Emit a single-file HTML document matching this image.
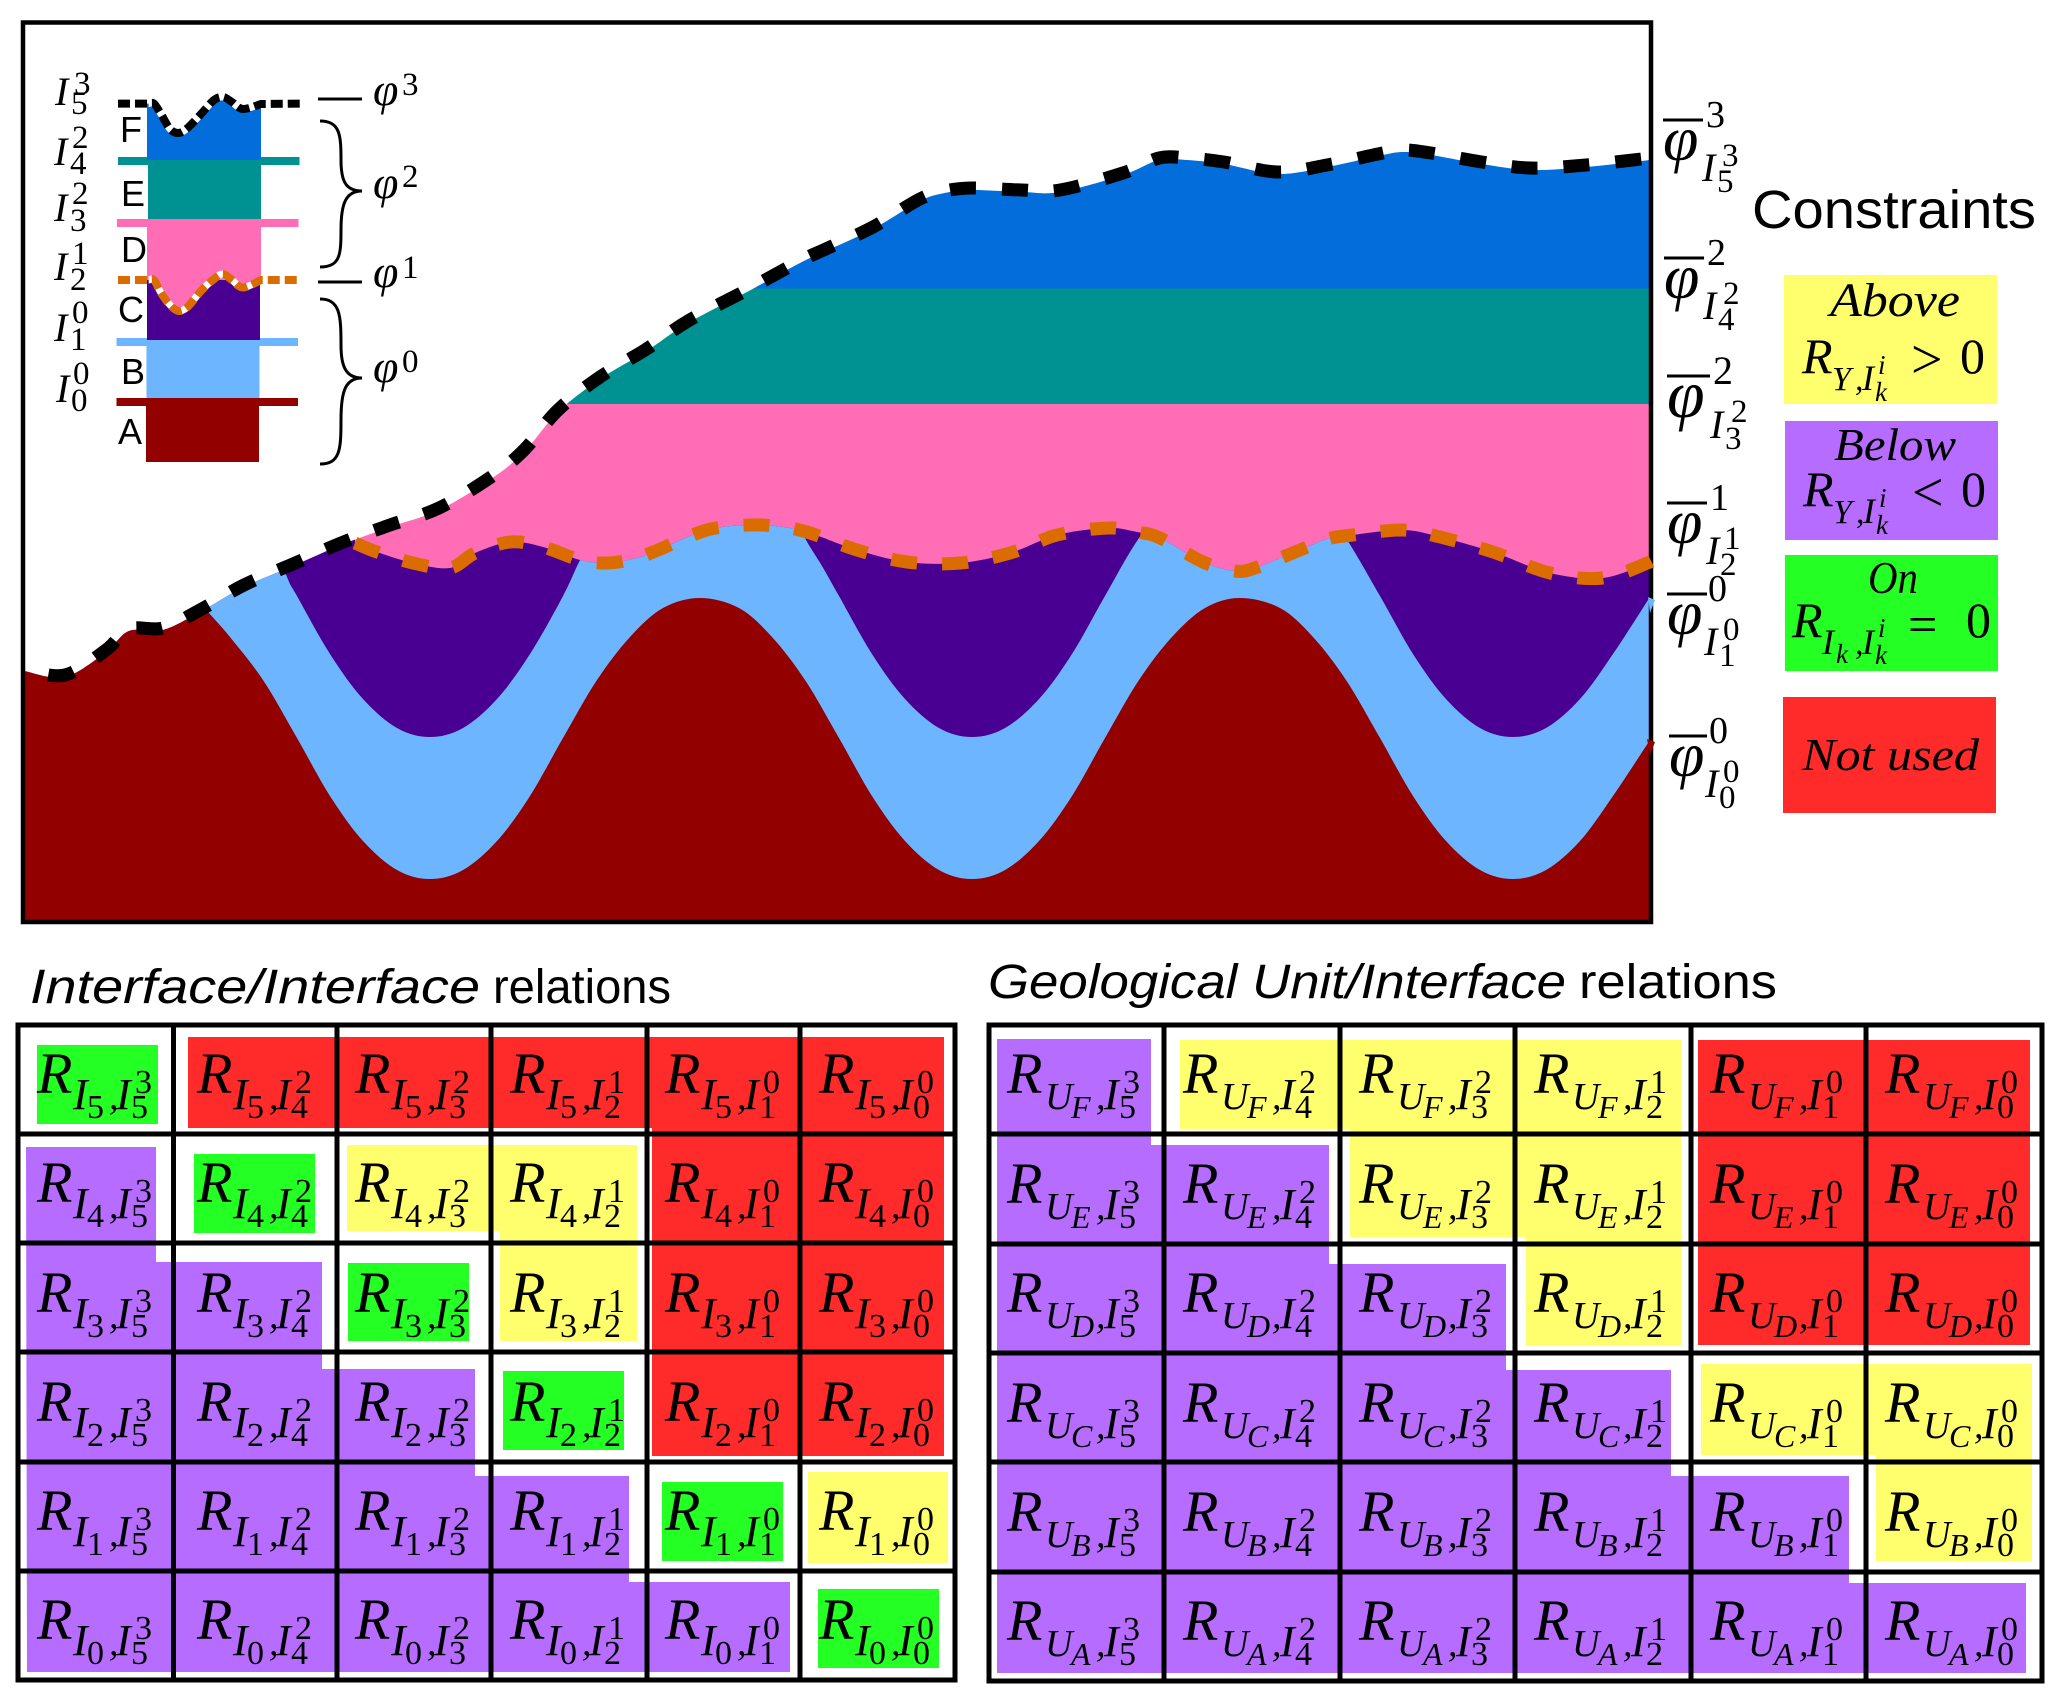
<!DOCTYPE html>
<html lang="en">
<head>
<meta charset="utf-8">
<title>Geological interface constraints</title>
<style>
html,body{margin:0;padding:0;background:#fff}
svg{display:block}
.m{font-family:"Liberation Serif",serif;font-style:italic;fill:#000}
.n{font-style:normal}
.s{font-family:"Liberation Sans",sans-serif;fill:#000}
</style>
</head>
<body>
<svg id="root" xmlns="http://www.w3.org/2000/svg" width="2067" height="1701" viewBox="0 0 2067 1701">
<rect width="2067" height="1701" fill="#fff"/>

<g id="section"></g>
<rect x="23" y="22.5" width="1628" height="899.5" fill="none" stroke="#000" stroke-width="4.5"/>
<path fill="#6db6ff" d="M1648 597L1655 600L1650 613Z"/>
<path fill="#920000" d="M1647 739L1655 742L1650 755Z"/>
<g id="section-top"></g>

<g id="inset">
  <rect x="146" y="400" width="113" height="62" fill="#920000"/>
  <rect x="146.5" y="340" width="113" height="60" fill="#6db6ff"/>
  <rect x="148" y="160" width="113" height="62" fill="#009292"/>
  <rect x="116.5" y="398" width="181.5" height="8" fill="#920000"/>
  <rect x="116.5" y="338" width="181.5" height="8" fill="#6db6ff"/>
  <rect x="117" y="219" width="181.5" height="8" fill="#ff6db6"/>
  <rect x="118" y="157" width="181.5" height="8" fill="#009292"/>
</g>

<g class="s" font-size="36">
  <text class="s" x="120" y="142">F</text>
  <text class="s" x="121" y="206">E</text>
  <text class="s" x="121" y="262">D</text>
  <text class="s" x="118" y="322">C</text>
  <text class="s" x="121" y="384">B</text>
  <text class="s" x="118" y="444">A</text>
</g>

<g>
  <text class="m" font-size="40"><tspan x="55" y="105">I</tspan><tspan class="n" font-size="33" x="74" y="94">3</tspan><tspan class="n" font-size="33" x="71" y="114">5</tspan></text>
  <text class="m" font-size="40"><tspan x="54" y="165">I</tspan><tspan class="n" font-size="33" x="72" y="148">2</tspan><tspan class="n" font-size="33" x="70" y="174">4</tspan></text>
  <text class="m" font-size="40"><tspan x="54" y="221">I</tspan><tspan class="n" font-size="33" x="72" y="204">2</tspan><tspan class="n" font-size="33" x="70" y="231">3</tspan></text>
  <text class="m" font-size="40"><tspan x="54" y="280">I</tspan><tspan class="n" font-size="33" x="72" y="264">1</tspan><tspan class="n" font-size="33" x="70" y="290">2</tspan></text>
  <text class="m" font-size="40"><tspan x="54" y="341">I</tspan><tspan class="n" font-size="33" x="72" y="323">0</tspan><tspan class="n" font-size="33" x="70" y="350">1</tspan></text>
  <text class="m" font-size="40"><tspan x="56" y="402">I</tspan><tspan class="n" font-size="33" x="73" y="384">0</tspan><tspan class="n" font-size="33" x="71" y="411">0</tspan></text>
</g>

<g fill="none" stroke="#000" stroke-width="3">
  <path d="M318 99H362"/>
  <path d="M318 282H362"/>
  <path d="M320 121C340 121 341 135 341 160C341 180 345 191 362 191C345 191 341 205 341 230C341 255 340 267 320 267"/>
  <path d="M320 299C340 299 341 315 341 345C341 365 345 378 362 378C345 378 341 392 341 420C341 450 340 464 320 464"/>
</g>
<text class="m" font-size="46"><tspan x="373" y="105">φ</tspan><tspan class="n" font-size="33" x="402" y="95">3</tspan></text>
<text class="m" font-size="46"><tspan x="373" y="198">φ</tspan><tspan class="n" font-size="33" x="402" y="187">2</tspan></text>
<text class="m" font-size="46"><tspan x="373" y="287">φ</tspan><tspan class="n" font-size="33" x="402" y="278">1</tspan></text>
<text class="m" font-size="46"><tspan x="373" y="382">φ</tspan><tspan class="n" font-size="33" x="402" y="372">0</tspan></text>

<g stroke="none">
  <rect x="1663" y="118.5" width="40" height="3" fill="#000"/>
  <text class="m" font-size="64"><tspan x="1663" y="160">φ</tspan><tspan class="n" font-size="38" x="1706" y="127">3</tspan><tspan font-size="40" x="1702" y="181">I</tspan><tspan class="n" font-size="33" x="1722" y="166">3</tspan><tspan class="n" font-size="33" x="1717" y="192">5</tspan></text>
  <rect x="1664" y="256.5" width="40" height="3" fill="#000"/>
  <text class="m" font-size="64"><tspan x="1664" y="298">φ</tspan><tspan class="n" font-size="38" x="1707" y="265">2</tspan><tspan font-size="40" x="1703" y="319">I</tspan><tspan class="n" font-size="33" x="1723" y="304">2</tspan><tspan class="n" font-size="33" x="1718" y="330">4</tspan></text>
  <rect x="1667" y="374.5" width="43" height="3" fill="#000"/>
  <text class="m" font-size="68"><tspan x="1667" y="417">φ</tspan><tspan class="n" font-size="40" x="1713" y="384">2</tspan><tspan font-size="40" x="1710" y="438">I</tspan><tspan class="n" font-size="33" x="1731" y="422">2</tspan><tspan class="n" font-size="33" x="1725" y="449">3</tspan></text>
  <rect x="1667" y="501.5" width="40" height="3" fill="#000"/>
  <text class="m" font-size="64"><tspan x="1667" y="543">φ</tspan><tspan class="n" font-size="38" x="1710" y="510">1</tspan><tspan font-size="40" x="1706" y="564">I</tspan><tspan class="n" font-size="33" x="1724" y="549">1</tspan><tspan class="n" font-size="33" x="1720" y="575">2</tspan></text>
  <rect x="1667" y="592.5" width="40" height="3" fill="#000"/>
  <text class="m" font-size="64"><tspan x="1667" y="634">φ</tspan><tspan class="n" font-size="38" x="1708" y="601">0</tspan><tspan font-size="40" x="1704" y="655">I</tspan><tspan class="n" font-size="33" x="1723" y="640">0</tspan><tspan class="n" font-size="33" x="1719" y="666">1</tspan></text>
  <rect x="1669" y="734.5" width="38" height="3" fill="#000"/>
  <text class="m" font-size="64"><tspan x="1669" y="776">φ</tspan><tspan class="n" font-size="38" x="1709" y="743">0</tspan><tspan font-size="40" x="1705" y="797">I</tspan><tspan class="n" font-size="33" x="1723" y="782">0</tspan><tspan class="n" font-size="33" x="1719" y="808">0</tspan></text>
</g>

<g>
  <text class="s" x="1752" y="228" font-size="54" textLength="284" lengthAdjust="spacingAndGlyphs">Constraints</text>

  <rect x="1784" y="275" width="213" height="129" fill="#ffff6d"/>
  <text class="m" x="1830" y="316" font-size="48" textLength="130" lengthAdjust="spacingAndGlyphs">Above</text>
  <text class="m" font-size="50"><tspan x="1802" y="373">R</tspan><tspan font-size="34" x="1832" y="390">Υ</tspan><tspan font-size="34" x="1855" y="390">,</tspan><tspan font-size="36" x="1862" y="390">I</tspan><tspan font-size="27" x="1878" y="374">i</tspan><tspan font-size="27" x="1875" y="401">k</tspan><tspan class="n" font-size="56" x="1911" y="378">&gt;</tspan><tspan class="n" font-size="50" x="1960" y="373">0</tspan></text>

  <rect x="1785" y="421" width="213" height="119" fill="#b66dff"/>
  <text class="m" x="1834" y="460" font-size="46" textLength="122" lengthAdjust="spacingAndGlyphs">Below</text>
  <text class="m" font-size="50"><tspan x="1803" y="506">R</tspan><tspan font-size="34" x="1833" y="523">Υ</tspan><tspan font-size="34" x="1856" y="523">,</tspan><tspan font-size="36" x="1863" y="523">I</tspan><tspan font-size="27" x="1879" y="507">i</tspan><tspan font-size="27" x="1876" y="534">k</tspan><tspan class="n" font-size="56" x="1912" y="511">&lt;</tspan><tspan class="n" font-size="50" x="1961" y="506">0</tspan></text>

  <rect x="1785" y="555" width="213" height="116" fill="#24ff24"/>
  <text class="m" x="1868" y="593" font-size="46" textLength="50" lengthAdjust="spacingAndGlyphs">On</text>
  <text class="m" font-size="50"><tspan x="1792" y="637">R</tspan><tspan font-size="36" x="1822" y="654">I</tspan><tspan font-size="27" x="1836" y="663">k</tspan><tspan font-size="34" x="1855" y="654">,</tspan><tspan font-size="36" x="1862" y="654">I</tspan><tspan font-size="27" x="1878" y="637">i</tspan><tspan font-size="27" x="1875" y="664">k</tspan><tspan class="n" font-size="52" x="1908" y="642">=</tspan><tspan class="n" font-size="50" x="1966" y="637">0</tspan></text>

  <rect x="1783" y="697" width="213" height="116" fill="#ff2b2b"/>
  <text class="m" x="1802" y="770" font-size="46" textLength="177" lengthAdjust="spacingAndGlyphs">Not used</text>
</g>

<text class="s" font-size="48" y="1003"><tspan font-style="italic" x="30" textLength="450" lengthAdjust="spacingAndGlyphs">Interface/Interface</tspan><tspan x="493" textLength="178" lengthAdjust="spacingAndGlyphs">relations</tspan></text>
<text class="s" font-size="48" y="998"><tspan font-style="italic" x="988" textLength="578" lengthAdjust="spacingAndGlyphs">Geological Unit/Interface</tspan><tspan x="1579" textLength="198" lengthAdjust="spacingAndGlyphs">relations</tspan></text>

<g>
  <path fill="#b66dff" d="M26 1147H156V1262H322V1369H475V1476H629V1582H790V1672H27Z"/>
  <path fill="#ff2b2b" d="M188 1037H944V1456H652V1128H188Z"/>
  <path fill="#ffff6d" d="M347 1145H637V1341H500V1231H347Z"/>
  <rect x="808" y="1472" width="140" height="91" fill="#ffff6d"/>
  <rect x="37" y="1045" width="121" height="79" fill="#24ff24"/>
  <rect x="194" y="1154" width="121" height="79" fill="#24ff24"/>
  <rect x="348" y="1263" width="121" height="78" fill="#24ff24"/>
  <rect x="503" y="1371" width="121" height="79" fill="#24ff24"/>
  <rect x="662" y="1482" width="121" height="79" fill="#24ff24"/>
  <rect x="818" y="1589" width="121" height="79" fill="#24ff24"/>
</g>
<g>
  <path fill="#b66dff" d="M997 1039H1151V1145H1329V1264H1506V1370H1671V1476H1849V1583H2026V1673H997Z"/>
  <path fill="#ffff6d" d="M1180 1040H1681V1346H1526V1237H1350V1129H1180Z"/>
  <rect x="1698" y="1040" width="332" height="305" fill="#ff2b2b"/>
  <path fill="#ffff6d" d="M1701 1364H2032V1561H1876V1455H1701Z"/>
</g>

<g id="tables"></g>
</svg>

<script>
// ---- cross-section data: distance along section and elevation above section base ----
const topDist = [0,20.5,41,52.5,69.5,88,110,134.5,158.5,183,207.5,233.5,250,267,288,310.5,332,360.5,388,402,424.5,447,458,473.5,499,518,549.5,567.5,581.5,600,626.5,651.5,677,689.5,703.5,729,753,781,813];
const topElev = [125,122,134.5,145,145.5,154.5,167,177.5,188,197,205.5,221,234.5,254.5,271,284.5,299,314,329,335.5,346,359.5,363.5,365.5,364.5,364.5,373,380.5,380.5,378.5,373.5,377,382.5,384.5,383,378.5,375.5,377,380.5];
const phi1Dist = [165.5,176.5,194.5,213,225.5,243,259.5,278,292,306.5,317,341.5,363,379.5,393,416.5,441.5,468,493,516.5,542,556.5,568,589.5,605.5,615.5,638,651.5,664.5,689.5,708,734.5,763,789.5,813];
const phi1Elev = [189,184.5,179,176.5,184,189.5,187,180.5,179,181.5,185.5,195.5,198,197,194,185.5,179.5,179,184,193,196.5,194.5,191.5,179.5,175,176.5,185.5,191,193,195.5,192,184.5,174,171.5,179.5];
const baseCDist = [115.5,123,131.5,136.5,153,169.5,186.5,203,219.5,236.5,253,269.5,278,293,318,340.5,368,383,390.5,399,407.5,424,440.5,457.5,474,490.5,507.5,524,540.5,557.5,583,610.5,638,661,678,694.5,711,728,744.5,761,778,794.5,813];
const baseCElev = [220.5,195.5,172,162.5,133.5,111,96.5,92,96.5,111,133.5,162.5,180.5,210.5,225.5,230.5,225.5,208,191.5,177.5,162.5,133.5,111,96.5,92,96.5,111,133.5,162.5,191.5,225.5,233,225.5,191.5,162.5,133.5,111,96.5,92,96.5,111,133.5,162];
const baseBDist = [0,48,83,92.5,103,119.5,136.5,153,169.5,186.5,203,219.5,236.5,253,269.5,286.5,303,319.5,338,357.5,374,390.5,407.5,424,440.5,457.5,474,490.5,507.5,524,540.5,557.5,574,590.5,608,628,644.5,661,678,694.5,711,728,744.5,761,778,794.5,813];
const baseBElev = [210.5,200.5,165.5,154,142,120.5,91.5,62.5,40,25.5,21,25.5,40,62.5,91.5,120.5,142,156.5,161.5,156.5,142,120.5,91.5,62.5,40,25.5,21,25.5,40,62.5,91.5,120.5,142,156.5,161.5,156.5,142,120.5,91.5,62.5,40,25.5,21,25.5,40,62.5,90.5];
const contactFE = 316.25;
const contactED = 258.5;

// ---- stratigraphic column data: position across column and depth below the datum ----
const colDist = [1.7,7,14,23,31.6,40.5,54,67,76,85,96,114];
const colDepthTop = [3.6,3.6,14,29,33,28,14,0,-3,2,9,4];
const colDepthPhi1 = [180,180,193,205,211,207,191,179,174,180,187.5,180];
const colLeft = -29;
const colRight = 153;

// ---- relation table data ----
const interfaceRows = ['5','4','3','2','1','0'];
const unitRows = ['F','E','D','C','B','A'];
const targetSup = ['3','2','2','1','0','0'];
const targetSub = ['5','4','3','2','1','0'];

const NS = 'http://www.w3.org/2000/svg';
const SEC_LEFT = 24, SEC_BASE = 921, COL_LEFT = 147, COL_DATUM = 100;
function sx(d){ return SEC_LEFT + d * 2; }
function sy(e){ return SEC_BASE - e * 2; }
function cx(d){ return COL_LEFT + d; }
function cy(v){ return COL_DATUM + v; }

function mk(tag, attrs, parent){
  const el = document.createElementNS(NS, tag);
  for (const k in attrs) el.setAttribute(k, attrs[k]);
  parent.appendChild(el);
  return el;
}
function pts(xs, ys, fx, fy){
  return xs.map(function(x, i){ return [fx(x), fy(ys[i])]; });
}
function spline(p){
  let d = '';
  for (let i = 0; i < p.length - 1; i++){
    const a = p[Math.max(i - 1, 0)], b = p[i], c = p[i + 1], e = p[Math.min(i + 2, p.length - 1)];
    const c1 = [b[0] + (c[0] - a[0]) / 6, b[1] + (c[1] - a[1]) / 6];
    const c2 = [c[0] - (e[0] - b[0]) / 6, c[1] - (e[1] - b[1]) / 6];
    d += 'C' + c1[0].toFixed(1) + ' ' + c1[1].toFixed(1) + ' ' + c2[0].toFixed(1) + ' ' + c2[1].toFixed(1) + ' ' + c[0].toFixed(1) + ' ' + c[1].toFixed(1);
  }
  return d;
}
function start(p){ return 'M' + p[0][0].toFixed(1) + ' ' + p[0][1].toFixed(1); }

// ---- draw cross-section ----
const section = document.getElementById('section');
const sectionTop = document.getElementById('section-top');
const defs = mk('defs', {}, section);
const topPts = pts(topDist, topElev, sx, sy);
const phiPts = pts(phi1Dist, phi1Elev, sx, sy);
const cPts = pts(baseCDist, baseCElev, sx, sy);
const bPts = pts(baseBDist, baseBElev, sx, sy);
const xL = sx(topDist[0]), xR = sx(topDist[topDist.length - 1]), yB = sy(0);

const clipTop = mk('clipPath', {id:'clip-top'}, defs);
mk('path', {d: start(topPts) + spline(topPts) + 'L' + xR + ' ' + yB + 'L' + xL + ' ' + yB + 'Z'}, clipTop);
const clipPhi = mk('clipPath', {id:'clip-phi'}, defs);
mk('path', {d: 'M' + xL + ' 0L' + phiPts[0][0] + ' 0L' + phiPts[0][0] + ' ' + phiPts[0][1] + spline(phiPts) + 'L' + xR + ' ' + yB + 'L' + xL + ' ' + yB + 'Z'}, clipPhi);

const gTop = mk('g', {'clip-path':'url(#clip-top)'}, section);
const unitF = mk('rect', {x:xL, y:0, width:xR - xL, height:sy(contactFE), fill:'#036ddb'}, gTop);


const unitE = mk('rect', {x:xL, y:sy(contactFE), width:xR - xL, height:sy(contactED) - sy(contactFE), fill:'#009292'}, gTop);


const unitD = mk('rect', {x:xL, y:sy(contactED), width:xR - xL, height:yB - sy(contactED), fill:'#ff6db6'}, gTop);



const gPhi = mk('g', {'clip-path':'url(#clip-phi)'}, gTop);
const unitC = mk('rect', {x:xL, y:0, width:xR - xL, height:yB, fill:'#490092'}, gPhi);


const unitB = mk('path', {d: start(cPts) + spline(cPts) + 'L' + xR + ' ' + yB + 'L' + xL + ' ' + yB + 'L' + xL + ' ' + cPts[0][1] + 'Z', fill:'#6db6ff'}, gPhi);


const unitA = mk('path', {d: start(bPts) + spline(bPts) + 'L' + xR + ' ' + yB + 'L' + xL + ' ' + yB + 'Z', fill:'#920000'}, gPhi);



const topLine = mk('path', {d: start(topPts) + spline(topPts), fill:'none', stroke:'#000', 'stroke-width':13, 'stroke-dasharray':'26 26', 'stroke-dashoffset':-25, transform:'translate(0,-2)'}, section);


const phiLine = mk('path', {d: start(phiPts) + spline(phiPts) + 'l6 -3', fill:'none', stroke:'#db6d00', 'stroke-width':13, 'stroke-dasharray':'26 25'}, sectionTop);



// ---- draw stratigraphic column curves ----
const inset = document.getElementById('inset');
const colTop = pts(colDist, colDepthTop, cx, cy);
const colPhi = pts(colDist, colDepthPhi1, cx, cy);
const cl = cx(colDist[0]) - 1.7, cr = cx(colDist[colDist.length - 1]);

const unitFcol = mk('path', {d:'M' + cl + ' ' + colTop[0][1] + 'L' + colTop[0][0] + ' ' + colTop[0][1] + spline(colTop) + 'L' + cr + ' 160L' + cl + ' 160Z', fill:'#036ddb'}, inset);


const unitCcol = mk('rect', {x:147, y:280, width:113, height:60, fill:'#490092'}, inset);


const unitDcol = mk('path', {d:'M' + cl + ' 222L' + cr + ' 222L' + cr + ' ' + colPhi[colPhi.length - 1][1] + 'L' + colPhi[colPhi.length - 1][0] + ' ' + colPhi[colPhi.length - 1][1] + 'L' + colPhi[0][0] + ' ' + colPhi[0][1] + 'L' + cl + ' ' + colPhi[0][1] + 'Z', fill:'#ff6db6'}, inset);


const unitDcurve = mk('path', {d:start(colPhi) + spline(colPhi) + 'Z', fill:'#ff6db6'}, inset);


const halo1 = mk('path', {d:start(colTop) + spline(colTop), fill:'none', stroke:'#fff', 'stroke-width':7}, inset);


const halo2 = mk('path', {d:start(colPhi) + spline(colPhi), fill:'none', stroke:'#fff', 'stroke-width':7}, inset);


const dLineTop = 'M' + cx(colLeft) + ' ' + colTop[0][1] + 'L' + colTop[0][0] + ' ' + colTop[0][1] + spline(colTop) + 'L' + cx(colRight) + ' ' + colTop[0][1];
const colLineTop = mk('path', {d:dLineTop, fill:'none', stroke:'#000', 'stroke-width':8, 'stroke-dasharray':'12 5'}, inset);


const dLinePhi = 'M' + cx(colLeft) + ' ' + colPhi[0][1] + 'L' + colPhi[0][0] + ' ' + colPhi[0][1] + spline(colPhi) + 'L' + cx(colRight) + ' ' + colPhi[0][1];
const colLinePhi = mk('path', {d:dLinePhi, fill:'none', stroke:'#db6d00', 'stroke-width':8, 'stroke-dasharray':'12 5'}, inset);



// ---- draw relation tables ----
const tables = document.getElementById('tables');
const gridL = {x:[18,173.5,337,491,647,800,955], y:[1025,1134,1243,1352,1462,1571,1680]};
const gridR = {x:[989,1164,1340,1515,1691,1866,2042], y:[1025,1134,1244,1353,1462,1572,1681]};
const textL = {x:[38,198,356,511,666,820], y:[1093,1202,1312,1421,1530,1639]};
const textR = {x:[1008,1184,1360,1535,1711,1886], y:[1093,1203,1312,1422,1531,1640]};

function drawGrid(g, label){
  for (let i = 0; i < g.x.length; i++){
    const v = mk('line', {x1:g.x[i], x2:g.x[i], y1:g.y[0] - 2.5, y2:g.y[6] + 2.5, stroke:'#000', 'stroke-width':5}, tables);
    
    
  }
  for (let i = 0; i < g.y.length; i++){
    const h = mk('line', {x1:g.x[0] - 2.5, x2:g.x[6] + 2.5, y1:g.y[i], y2:g.y[i], stroke:'#000', 'stroke-width':5}, tables);
    
    
  }
}
drawGrid(gridL, 'interface-table');
drawGrid(gridR, 'unit-table');

function span(t, str, x, y, size, upright){
  const s = mk('tspan', {x:x, y:y, 'font-size':size}, t);
  if (upright) s.setAttribute('class', 'n');
  s.textContent = str;
}
for (let r = 0; r < 6; r++){
  for (let c = 0; c < 6; c++){
    const x = textL.x[c], y = textL.y[r];
    const t = mk('text', {class:'m'}, tables);
    
    
    span(t, 'R', x - 1, y, 58);
    span(t, 'I', x + 35, y + 16, 44);
    span(t, interfaceRows[r], x + 49, y + 25, 34, true);
    span(t, ',', x + 71, y + 16, 38);
    span(t, 'I', x + 78, y + 16, 44);
    span(t, targetSup[c], x + 97, y, 34, true);
    span(t, targetSub[c], x + 93, y + 25, 34, true);

    const x2 = textR.x[c], y2 = textR.y[r];
    const u = mk('text', {class:'m'}, tables);
    
    
    span(u, 'R', x2 - 1, y2, 58);
    span(u, 'U', x2 + 37, y2 + 16, 38);
    span(u, unitRows[r], x2 + 63, y2 + 25, 32);
    span(u, ',', x2 + 88, y2 + 16, 38);
    span(u, 'I', x2 + 96, y2 + 16, 44);
    span(u, targetSup[c], x2 + 115, y2, 34, true);
    span(u, targetSub[c], x2 + 111, y2 + 25, 34, true);
  }
}
</script>
</body>
</html>
